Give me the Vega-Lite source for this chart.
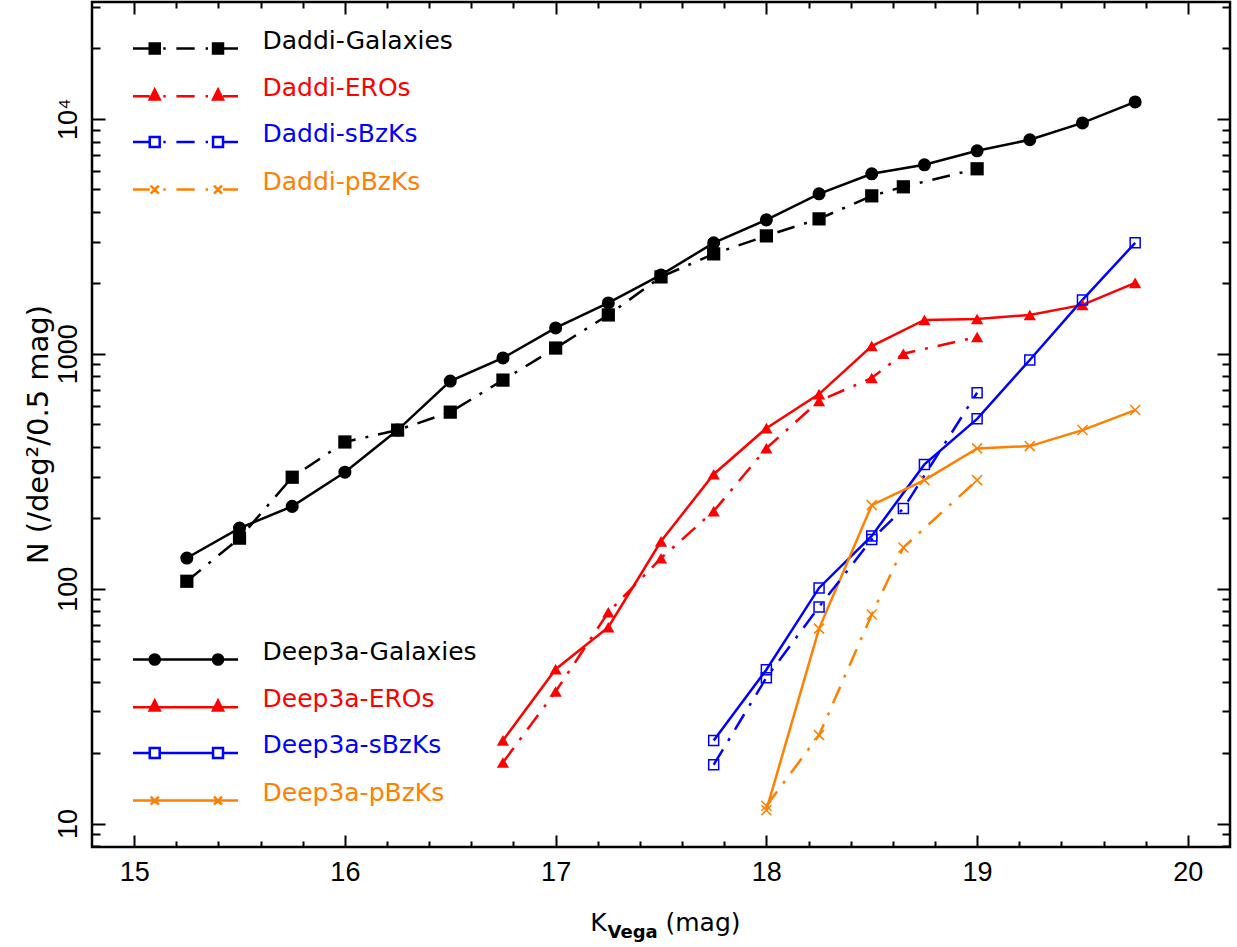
{
  "$schema": "https://vega.github.io/schema/vega-lite/v6.json",
  "width": 1138,
  "height": 845,
  "autosize": {"type": "none"},
  "padding": {"left": 92, "top": 2, "right": 7, "bottom": 100},
  "background": "white",
  "config": {
    "view": {"stroke": "black", "strokeWidth": 2.5},
    "axis": {"domain": false, "grid": false, "tickColor": "black", "tickWidth": 2, "labelColor": "black", "titleColor": "black", "labelOverlap": false, "labelFlush": false}
  },
  "datasets": {
    "pts": [
      {"series": "Deep3a-Galaxies", "k": 15.25, "n": 135},
      {"series": "Deep3a-Galaxies", "k": 15.5, "n": 181},
      {"series": "Deep3a-Galaxies", "k": 15.75, "n": 224},
      {"series": "Deep3a-Galaxies", "k": 16.0, "n": 313},
      {"series": "Deep3a-Galaxies", "k": 16.25, "n": 473},
      {"series": "Deep3a-Galaxies", "k": 16.5, "n": 765},
      {"series": "Deep3a-Galaxies", "k": 16.75, "n": 959},
      {"series": "Deep3a-Galaxies", "k": 17.0, "n": 1287},
      {"series": "Deep3a-Galaxies", "k": 17.25, "n": 1644},
      {"series": "Deep3a-Galaxies", "k": 17.5, "n": 2164},
      {"series": "Deep3a-Galaxies", "k": 17.75, "n": 2963},
      {"series": "Deep3a-Galaxies", "k": 18.0, "n": 3712},
      {"series": "Deep3a-Galaxies", "k": 18.25, "n": 4791},
      {"series": "Deep3a-Galaxies", "k": 18.5, "n": 5832},
      {"series": "Deep3a-Galaxies", "k": 18.75, "n": 6368},
      {"series": "Deep3a-Galaxies", "k": 19.0, "n": 7306},
      {"series": "Deep3a-Galaxies", "k": 19.25, "n": 8139},
      {"series": "Deep3a-Galaxies", "k": 19.5, "n": 9600},
      {"series": "Deep3a-Galaxies", "k": 19.75, "n": 11790},
      {"series": "Daddi-Galaxies", "k": 15.25, "n": 107.5},
      {"series": "Daddi-Galaxies", "k": 15.5, "n": 164},
      {"series": "Daddi-Galaxies", "k": 15.75, "n": 298},
      {"series": "Daddi-Galaxies", "k": 16.0, "n": 421},
      {"series": "Daddi-Galaxies", "k": 16.25, "n": 473},
      {"series": "Daddi-Galaxies", "k": 16.5, "n": 564},
      {"series": "Daddi-Galaxies", "k": 16.75, "n": 772},
      {"series": "Daddi-Galaxies", "k": 17.0, "n": 1057},
      {"series": "Daddi-Galaxies", "k": 17.25, "n": 1462},
      {"series": "Daddi-Galaxies", "k": 17.5, "n": 2122},
      {"series": "Daddi-Galaxies", "k": 17.75, "n": 2660},
      {"series": "Daddi-Galaxies", "k": 18.0, "n": 3173},
      {"series": "Daddi-Galaxies", "k": 18.25, "n": 3749},
      {"series": "Daddi-Galaxies", "k": 18.5, "n": 4697},
      {"series": "Daddi-Galaxies", "k": 18.65, "n": 5132},
      {"series": "Daddi-Galaxies", "k": 19.0, "n": 6124},
      {"series": "Deep3a-EROs", "k": 16.75, "n": 22.6},
      {"series": "Deep3a-EROs", "k": 17.0, "n": 45.4},
      {"series": "Deep3a-EROs", "k": 17.25, "n": 68.5},
      {"series": "Deep3a-EROs", "k": 17.5, "n": 159},
      {"series": "Deep3a-EROs", "k": 17.75, "n": 307},
      {"series": "Deep3a-EROs", "k": 18.0, "n": 482},
      {"series": "Deep3a-EROs", "k": 18.25, "n": 673},
      {"series": "Deep3a-EROs", "k": 18.5, "n": 1078},
      {"series": "Deep3a-EROs", "k": 18.75, "n": 1392},
      {"series": "Deep3a-EROs", "k": 19.0, "n": 1405},
      {"series": "Deep3a-EROs", "k": 19.25, "n": 1462},
      {"series": "Deep3a-EROs", "k": 19.5, "n": 1613},
      {"series": "Deep3a-EROs", "k": 19.75, "n": 2001},
      {"series": "Daddi-EROs", "k": 16.75, "n": 18.2},
      {"series": "Daddi-EROs", "k": 17.0, "n": 36.5},
      {"series": "Daddi-EROs", "k": 17.25, "n": 79.3},
      {"series": "Daddi-EROs", "k": 17.5, "n": 134.7},
      {"series": "Daddi-EROs", "k": 17.75, "n": 213.7},
      {"series": "Daddi-EROs", "k": 18.0, "n": 396},
      {"series": "Daddi-EROs", "k": 18.25, "n": 629},
      {"series": "Daddi-EROs", "k": 18.5, "n": 788},
      {"series": "Daddi-EROs", "k": 18.65, "n": 1000},
      {"series": "Daddi-EROs", "k": 19.0, "n": 1178},
      {"series": "Deep3a-sBzKs", "k": 17.75, "n": 22.6},
      {"series": "Deep3a-sBzKs", "k": 18.0, "n": 45.2},
      {"series": "Deep3a-sBzKs", "k": 18.25, "n": 100.7},
      {"series": "Deep3a-sBzKs", "k": 18.5, "n": 167.7},
      {"series": "Deep3a-sBzKs", "k": 18.75, "n": 337.9},
      {"series": "Deep3a-sBzKs", "k": 19.0, "n": 528},
      {"series": "Deep3a-sBzKs", "k": 19.25, "n": 940},
      {"series": "Deep3a-sBzKs", "k": 19.5, "n": 1694},
      {"series": "Deep3a-sBzKs", "k": 19.75, "n": 2963},
      {"series": "Daddi-sBzKs", "k": 17.75, "n": 17.8},
      {"series": "Daddi-sBzKs", "k": 18.0, "n": 41.8},
      {"series": "Daddi-sBzKs", "k": 18.25, "n": 83.6},
      {"series": "Daddi-sBzKs", "k": 18.5, "n": 161.9},
      {"series": "Daddi-sBzKs", "k": 18.65, "n": 219.4},
      {"series": "Daddi-sBzKs", "k": 19.0, "n": 682},
      {"series": "Deep3a-pBzKs", "k": 18.0, "n": 11.4},
      {"series": "Deep3a-pBzKs", "k": 18.25, "n": 67.6},
      {"series": "Deep3a-pBzKs", "k": 18.5, "n": 226.7},
      {"series": "Deep3a-pBzKs", "k": 18.75, "n": 289.6},
      {"series": "Deep3a-pBzKs", "k": 19.0, "n": 395.3},
      {"series": "Deep3a-pBzKs", "k": 19.25, "n": 404.3},
      {"series": "Deep3a-pBzKs", "k": 19.5, "n": 473},
      {"series": "Deep3a-pBzKs", "k": 19.75, "n": 575.6},
      {"series": "Daddi-pBzKs", "k": 18.0, "n": 11.9},
      {"series": "Daddi-pBzKs", "k": 18.25, "n": 23.8},
      {"series": "Daddi-pBzKs", "k": 18.5, "n": 77.6},
      {"series": "Daddi-pBzKs", "k": 18.65, "n": 149.7},
      {"series": "Daddi-pBzKs", "k": 19.0, "n": 289.6}
    ]
  },
  "data": {"name": "pts"},
  "layer": [
    {
      "transform": [{"filter": {"field": "series", "oneOf": ["Deep3a-Galaxies", "Deep3a-EROs", "Deep3a-sBzKs", "Deep3a-pBzKs"]}}],
      "mark": {"type": "line", "strokeWidth": 2.5, "clip": true},
      "encoding": {
        "x": {
          "field": "k", "type": "quantitative",
          "scale": {"domain": [14.8, 20.2], "nice": false, "zero": false},
          "axis": {
            "orient": "bottom",
            "values": [15, 16, 17, 18, 19, 20],
            "format": "d",
            "tickSize": -12,
            "labelFont": "Liberation Sans", "labelFontSize": 27, "labelPadding": 24,
            "title": "K", "titleX": 506, "titleY": 83, "titleAlign": "center", "titleBaseline": "alphabetic", "titleAngle": 0,
            "titleFont": "DejaVu Sans", "titleFontSize": 25, "titleFontWeight": "normal"
          }
        },
        "y": {
          "field": "n", "type": "quantitative",
          "scale": {"type": "log", "domain": [7.95, 31400], "nice": false},
          "axis": {
            "orient": "left",
            "values": [10, 100, 1000, 10000],
            "labelExpr": "datum.value == 10000 ? '10⁴' : format(datum.value, 'd')",
            "tickSize": -13,
            "labelFont": "Liberation Sans, DejaVu Sans", "labelFontSize": 27, "labelPadding": 23,
            "labelAngle": -90, "labelAlign": "center", "labelBaseline": "bottom",
            "title": "N (/deg²/0.5 mag)", "titleX": -45, "titleY": 432, "titleAngle": -90, "titleAlign": "center", "titleBaseline": "alphabetic",
            "titleFont": "DejaVu Sans", "titleFontSize": 29, "titleFontWeight": "normal"
          }
        },
        "color": {
          "field": "series", "type": "nominal",
          "scale": {"domain": ["Deep3a-Galaxies", "Deep3a-EROs", "Deep3a-sBzKs", "Deep3a-pBzKs"], "range": ["#000000", "#ff0000", "#0000ff", "#ff8000"]},
          "legend": {
            "orient": "none", "legendX": 34.5, "legendY": 645, "title": null, "padding": 0,
            "symbolSize": 144, "symbolStrokeWidth": 2.5,
            "labelFont": "DejaVu Sans", "labelFontSize": 25, "labelOffset": 111, "labelLimit": 500, "labelBaseline": "alphabetic",
            "rowPadding": 16.7,
            "encode": {
              "symbols": {"update": {
                "shape": {"signal": "datum.value == 'Deep3a-Galaxies' ? 'M-1,0H16.5M3.47,0A0.85,0.85,0,1,1,1.77,0A0.85,0.85,0,1,1,3.47,0ZM14.02,0A0.85,0.85,0,1,1,12.32,0A0.85,0.85,0,1,1,14.02,0Z' : datum.value == 'Deep3a-EROs' ? 'M-1,0H16.5M2.62,-1.1L3.45,0.55L1.79,0.55ZM13.17,-1.1L14,0.55L12.34,0.55Z' : datum.value == 'Deep3a-sBzKs' ? 'M-1,0H1.79M3.45,0H12.34M14,0H16.5M1.79,-0.83H3.45V0.83H1.79ZM12.34,-0.83H14V0.83H12.34Z' : 'M-1,0H16.5M1.95,-0.67L3.29,0.67M1.95,0.67L3.29,-0.67M12.5,-0.67L13.84,0.67M12.5,0.67L13.84,-0.67'"},
                "fill": {"signal": "datum.value == 'Deep3a-Galaxies' ? '#000000' : datum.value == 'Deep3a-EROs' ? '#ff0000' : 'transparent'"},
                "stroke": {"signal": "datum.value == 'Deep3a-Galaxies' ? '#000000' : datum.value == 'Deep3a-EROs' ? '#ff0000' : datum.value == 'Deep3a-sBzKs' ? '#0000ff' : '#ff8000'"},
                "strokeDash": {"value": []},
                "size": {"value": 144},
                "strokeWidth": {"value": 2.5},
                "opacity": {"value": 1}
              }},
              "labels": {"update": {
                "fill": {"signal": "datum.value == 'Deep3a-Galaxies' ? '#000000' : datum.value == 'Deep3a-EROs' ? '#ff0000' : datum.value == 'Deep3a-sBzKs' ? '#0000ff' : '#ff8000'"}
              }}
            }
          }
        }
      }
    },
    {
      "transform": [{"filter": {"field": "series", "oneOf": ["Daddi-Galaxies", "Daddi-EROs", "Daddi-sBzKs", "Daddi-pBzKs"]}}],
      "mark": {"type": "line", "strokeWidth": 2.5, "strokeDash": [18, 10, 3, 10], "clip": true},
      "encoding": {
        "x": {
          "field": "k", "type": "quantitative",
          "scale": {"domain": [14.8, 20.2], "nice": false, "zero": false},
          "axis": {
            "orient": "top",
            "values": [15, 16, 17, 18, 19, 20],
            "labels": false,
            "tickSize": -12,
            "title": "Vega", "titleX": 515, "titleY": 935, "titleAlign": "left", "titleBaseline": "alphabetic", "titleAngle": 0,
            "titleFont": "DejaVu Sans", "titleFontSize": 18, "titleFontWeight": "bold"
          }
        },
        "y": {
          "field": "n", "type": "quantitative",
          "scale": {"type": "log", "domain": [7.95, 31400], "nice": false},
          "axis": {
            "orient": "right",
            "values": [10, 100, 1000, 10000],
            "labels": false,
            "tickSize": -13,
            "title": null
          }
        },
        "color": {
          "field": "series", "type": "nominal",
          "scale": {"domain": ["Daddi-Galaxies", "Daddi-EROs", "Daddi-sBzKs", "Daddi-pBzKs"], "range": ["#000000", "#ff0000", "#0000ff", "#ff8000"]},
          "legend": {
            "orient": "none", "legendX": 34.5, "legendY": 34, "title": null, "padding": 0,
            "symbolSize": 144, "symbolStrokeWidth": 2.5,
            "labelFont": "DejaVu Sans", "labelFontSize": 25, "labelOffset": 111, "labelLimit": 500, "labelBaseline": "alphabetic",
            "rowPadding": 16.7,
            "encode": {
              "symbols": {"update": {
                "shape": {"signal": "datum.value == 'Daddi-Galaxies' ? 'M-1,0H1.79M4.05,0H4.45M6.23,0H9.28M11.1,0H11.5M14,0H16.5M1.79,-0.83H3.45V0.83H1.79ZM12.34,-0.83H14V0.83H12.34Z' : datum.value == 'Daddi-EROs' ? 'M-1,0H1.79M4.05,0H4.45M6.23,0H9.28M11.1,0H11.5M14,0H16.5M2.62,-1.1L3.45,0.55L1.79,0.55ZM13.17,-1.1L14,0.55L12.34,0.55Z' : datum.value == 'Daddi-sBzKs' ? 'M-1,0H1.79M4.05,0H4.45M6.23,0H9.28M11.1,0H11.5M14,0H16.5M1.79,-0.83H3.45V0.83H1.79ZM12.34,-0.83H14V0.83H12.34Z' : 'M-1,0H1.79M4.05,0H4.45M6.23,0H9.28M11.1,0H11.5M14,0H16.5M1.95,-0.67L3.29,0.67M1.95,0.67L3.29,-0.67M12.5,-0.67L13.84,0.67M12.5,0.67L13.84,-0.67'"},
                "fill": {"signal": "datum.value == 'Daddi-Galaxies' ? '#000000' : datum.value == 'Daddi-EROs' ? '#ff0000' : 'transparent'"},
                "stroke": {"signal": "datum.value == 'Daddi-Galaxies' ? '#000000' : datum.value == 'Daddi-EROs' ? '#ff0000' : datum.value == 'Daddi-sBzKs' ? '#0000ff' : '#ff8000'"},
                "strokeDash": {"value": []},
                "size": {"value": 144},
                "strokeWidth": {"value": 2.5},
                "opacity": {"value": 1}
              }},
              "labels": {"update": {
                "fill": {"signal": "datum.value == 'Daddi-Galaxies' ? '#000000' : datum.value == 'Daddi-EROs' ? '#ff0000' : datum.value == 'Daddi-sBzKs' ? '#0000ff' : '#ff8000'"}
              }}
            }
          }
        }
      }
    },
    {
      "transform": [{"filter": {"field": "series", "equal": "Deep3a-Galaxies"}}],
      "mark": {"type": "point", "shape": "circle", "filled": true, "size": 170, "color": "#000000", "opacity": 1},
      "encoding": {
        "x": {
          "field": "k", "type": "quantitative",
          "scale": {"domain": [14.8, 20.2], "nice": false, "zero": false},
          "axis": {
            "orient": "bottom",
            "values": [15.2, 15.4, 15.6, 15.8, 16.2, 16.4, 16.6, 16.8, 17.2, 17.4, 17.6, 17.8, 18.2, 18.4, 18.6, 18.8, 19.2, 19.4, 19.6, 19.8],
            "tickSize": -6, "labels": false,
            "title": "(mag)", "titleX": 573, "titleY": 83, "titleAlign": "left", "titleBaseline": "alphabetic", "titleAngle": 0,
            "titleFont": "DejaVu Sans", "titleFontSize": 25, "titleFontWeight": "normal"
          }
        },
        "y": {
          "field": "n", "type": "quantitative",
          "scale": {"type": "log", "domain": [7.95, 31400], "nice": false},
          "axis": {
            "orient": "left",
            "values": [8, 9, 20, 30, 40, 50, 60, 70, 80, 90, 200, 300, 400, 500, 600, 700, 800, 900, 2000, 3000, 4000, 5000, 6000, 7000, 8000, 9000, 20000, 30000],
            "tickSize": -8, "labels": false, "title": null
          }
        }
      }
    },
    {
      "transform": [{"filter": {"field": "series", "equal": "Daddi-Galaxies"}}],
      "mark": {"type": "point", "shape": "square", "filled": true, "size": 175, "color": "#000000", "opacity": 1},
      "encoding": {
        "x": {
          "field": "k", "type": "quantitative",
          "scale": {"domain": [14.8, 20.2], "nice": false, "zero": false},
          "axis": {
            "orient": "top",
            "values": [15.2, 15.4, 15.6, 15.8, 16.2, 16.4, 16.6, 16.8, 17.2, 17.4, 17.6, 17.8, 18.2, 18.4, 18.6, 18.8, 19.2, 19.4, 19.6, 19.8],
            "tickSize": -6, "labels": false, "title": null
          }
        },
        "y": {
          "field": "n", "type": "quantitative",
          "scale": {"type": "log", "domain": [7.95, 31400], "nice": false},
          "axis": {
            "orient": "right",
            "values": [8, 9, 20, 30, 40, 50, 60, 70, 80, 90, 200, 300, 400, 500, 600, 700, 800, 900, 2000, 3000, 4000, 5000, 6000, 7000, 8000, 9000, 20000, 30000],
            "tickSize": -8, "labels": false, "title": null
          }
        }
      }
    },
    {
      "transform": [{"filter": {"field": "series", "oneOf": ["Deep3a-EROs", "Daddi-EROs"]}}],
      "mark": {"type": "point", "shape": "triangle-up", "filled": true, "size": 150, "color": "#ff0000", "opacity": 1},
      "encoding": {
        "x": {"field": "k", "type": "quantitative", "scale": {"domain": [14.8, 20.2], "nice": false, "zero": false}, "axis": null},
        "y": {"field": "n", "type": "quantitative", "scale": {"type": "log", "domain": [7.95, 31400], "nice": false}, "axis": null}
      }
    },
    {
      "transform": [{"filter": {"field": "series", "oneOf": ["Deep3a-sBzKs", "Daddi-sBzKs"]}}],
      "mark": {"type": "point", "shape": "square", "filled": false, "size": 100, "strokeWidth": 1.5, "color": "#0000ff", "opacity": 1},
      "encoding": {
        "x": {"field": "k", "type": "quantitative", "scale": {"domain": [14.8, 20.2], "nice": false, "zero": false}, "axis": null},
        "y": {"field": "n", "type": "quantitative", "scale": {"type": "log", "domain": [7.95, 31400], "nice": false}, "axis": null}
      }
    },
    {
      "transform": [{"filter": {"field": "series", "oneOf": ["Deep3a-pBzKs", "Daddi-pBzKs"]}}],
      "mark": {"type": "point", "shape": "M-1,-1L1,1M-1,1L1,-1", "filled": false, "size": 100, "strokeWidth": 1.5, "color": "#ff8000", "opacity": 1},
      "encoding": {
        "x": {"field": "k", "type": "quantitative", "scale": {"domain": [14.8, 20.2], "nice": false, "zero": false}, "axis": null},
        "y": {"field": "n", "type": "quantitative", "scale": {"type": "log", "domain": [7.95, 31400], "nice": false}, "axis": null}
      }
    }
  ],
  "resolve": {"scale": {"color": "independent"}, "axis": {"x": "independent", "y": "independent"}}
}
